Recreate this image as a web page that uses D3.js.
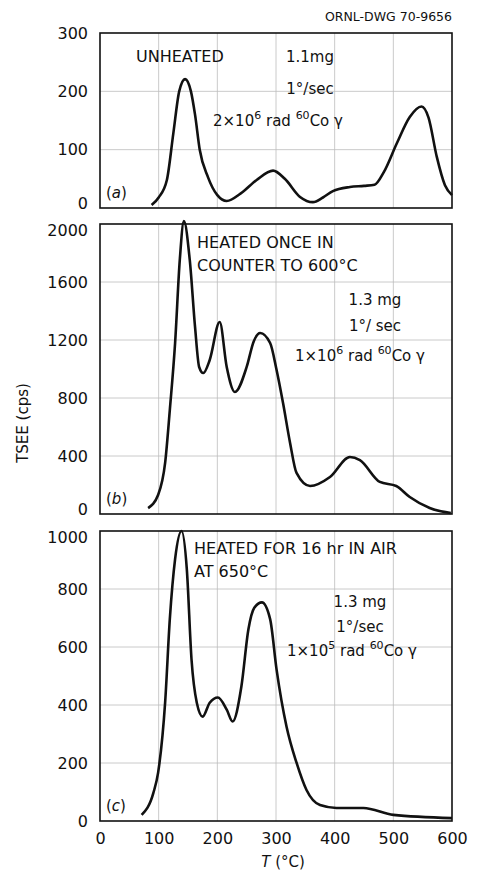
<!DOCTYPE html>
<html>
<head>
<meta charset="utf-8">
<script src="https://cdn.jsdelivr.net/npm/d3@7"></script>
<style>
  body { margin: 0; background: #fff; }
  text { font-family: "DejaVu Sans", sans-serif; fill: #111; }
</style>
</head>
<body>
<div id="chart"></div>
<script>
// glow curves, temperature (°C) vs TSEE counts (cps)
var tempA = [88, 100, 114, 125, 135, 145, 155, 162, 170, 184, 200, 216, 240, 267, 295, 315, 341, 363, 380, 397, 426, 450, 468, 484, 506, 528, 548, 560, 574, 588, 600];
var cpsA  = [5, 18, 48, 128, 200, 221, 200, 160, 100, 53, 22, 12, 25, 48, 64, 50, 19, 10, 18, 29, 36, 38, 40, 62, 111, 156, 174, 155, 88, 39, 22];

var tempB = [82, 99, 111, 119, 128, 136, 143, 153, 162, 169, 176, 187, 204, 216, 230, 250, 262, 273, 290, 301, 312, 324, 335, 358, 392, 426, 443, 477, 505, 528, 562, 598];
var cpsB  = [41, 131, 352, 717, 1179, 1752, 2020, 1752, 1290, 1014, 972, 1062, 1324, 1014, 841, 1014, 1190, 1248, 1179, 993, 765, 490, 283, 193, 255, 393, 372, 221, 193, 117, 41, 7];

var tempC = [71, 91, 99, 111, 119, 128, 139, 148, 156, 165, 175, 187, 201, 216, 226, 241, 253, 263, 276, 290, 301, 318, 335, 352, 375, 403, 449, 500, 600];
var cpsC  = [21, 97, 166, 408, 696, 903, 1000, 868, 557, 408, 360, 408, 426, 384, 343, 464, 661, 735, 754, 696, 522, 325, 201, 107, 55, 45, 45, 21, 10];

var xTicks = [0, 100, 200, 300, 400, 500, 600];

var width = 477, height = 872;
var left = 100, right = 452;

var svg = d3.select("#chart").append("svg")
  .attr("width", width)
  .attr("height", height);

var x = d3.scaleLinear().domain([0, 600]).range([left, right]);

var panels = [
  { temp: tempA, cps: cpsA, max: 300,  step: 100, top: 33,  bottom: 208, tag: "a" },
  { temp: tempB, cps: cpsB, max: 2000, step: 400, top: 224, bottom: 514, tag: "b" },
  { temp: tempC, cps: cpsC, max: 1000, step: 200, top: 531, bottom: 821, tag: "c" }
];

panels.forEach(function(p, k) {
  var y = d3.scaleLinear().domain([0, p.max]).range([p.bottom, p.top]);
  var yTicks = d3.range(0, p.max + 1, p.step);

  var g = svg.append("g");

  // grid
  g.selectAll(".vgrid").data(xTicks.slice(1, -1)).enter().append("line")
    .attr("x1", d => x(d)).attr("x2", d => x(d))
    .attr("y1", p.top).attr("y2", p.bottom)
    .attr("stroke", "#bdbdbd").attr("stroke-width", 0.8);
  g.selectAll(".hgrid").data(yTicks.slice(1, -1)).enter().append("line")
    .attr("x1", left).attr("x2", right)
    .attr("y1", d => y(d)).attr("y2", d => y(d))
    .attr("stroke", "#bdbdbd").attr("stroke-width", 0.8);

  // y axis labels
  var ax = g.append("g")
    .attr("transform", "translate(" + left + ",0)")
    .call(d3.axisLeft(y).tickValues(yTicks).tickSize(0).tickPadding(12).tickFormat(d3.format("d")));
  ax.select(".domain").remove();
  ax.selectAll("text")
    .style("font-size", "16px")
    .style("font-family", "DejaVu Sans, sans-serif")
    .attr("fill", "#111");
  // nudge the end labels so neighbouring panels don't collide
  ax.selectAll(".tick").filter(d => d === 0 && k < 2).select("text").attr("y", -5);
  ax.selectAll(".tick").filter(d => d === p.max && k > 0).select("text").attr("y", 6);

  // frame
  g.append("rect")
    .attr("x", left).attr("y", p.top)
    .attr("width", right - left).attr("height", p.bottom - p.top)
    .attr("fill", "none").attr("stroke", "#111").attr("stroke-width", 1.6);

  // curve
  var line = d3.line()
    .x(function(d, i) { return x(p.temp[i]); })
    .y(function(d) { return y(d); })
    .curve(d3.curveMonotoneX);

  g.append("path")
    .datum(p.cps)
    .attr("fill", "none")
    .attr("stroke", "#111")
    .attr("stroke-width", 2.6)
    .attr("stroke-linejoin", "round")
    .attr("d", line);

  g.append("text")
    .attr("x", 106).attr("y", p.bottom - 10)
    .style("font-size", "15px")
    .html("(<tspan font-style='italic'>" + p.tag + "</tspan>)");
});

// bottom x axis
var xa = svg.append("g")
  .attr("transform", "translate(0," + panels[2].bottom + ")")
  .call(d3.axisBottom(x).tickValues(xTicks).tickSize(0).tickPadding(12));
xa.select(".domain").remove();
xa.selectAll("text")
  .style("font-size", "16px")
  .style("font-family", "DejaVu Sans, sans-serif")
  .attr("fill", "#111");

svg.append("text")
  .attr("x", 283).attr("y", 867)
  .attr("text-anchor", "middle")
  .style("font-size", "15px")
  .html("<tspan font-style='italic'>T</tspan> (°C)");

svg.append("text")
  .attr("transform", "translate(28,423) rotate(-90)")
  .attr("text-anchor", "middle")
  .style("font-size", "15px")
  .text("TSEE (cps)");

svg.append("text")
  .attr("x", 452).attr("y", 21)
  .attr("text-anchor", "end")
  .style("font-size", "12.5px")
  .text("ORNL-DWG 70-9656");

// annotations
function note(xp, yp, txt, anchor, size) {
  svg.append("text")
    .attr("x", xp).attr("y", yp)
    .attr("text-anchor", anchor || "start")
    .style("font-size", (size || 15) + "px")
    .text(txt);
}

function dose(xp, yp, lead, exp) {
  var t = svg.append("text")
    .attr("x", xp).attr("y", yp)
    .style("font-size", "15px");
  t.append("tspan").text(lead + "×10");
  t.append("tspan").attr("dy", -7).style("font-size", "11px").text(exp);
  t.append("tspan").attr("dy", 7).text(" rad ");
  t.append("tspan").attr("dy", -7).style("font-size", "11px").text("60");
  t.append("tspan").attr("dy", 7).text("Co γ");
}

note(136, 62, "UNHEATED", "start", 16);
note(310, 62, "1.1mg", "middle");
note(310, 94, "1°/sec", "middle");
dose(213, 126, "2", "6");

note(197, 248, "HEATED ONCE IN", "start", 16);
note(197, 271, "COUNTER TO 600°C", "start", 16);
note(375, 305, "1.3 mg", "middle");
note(375, 331, "1°/ sec", "middle");
dose(295, 361, "1", "6");

note(194, 554, "HEATED FOR 16 hr IN AIR", "start", 16);
note(194, 577, "AT 650°C", "start", 16);
note(360, 607, "1.3 mg", "middle");
note(360, 632, "1°/sec", "middle");
dose(287, 656, "1", "5");
</script>
</body>
</html>
